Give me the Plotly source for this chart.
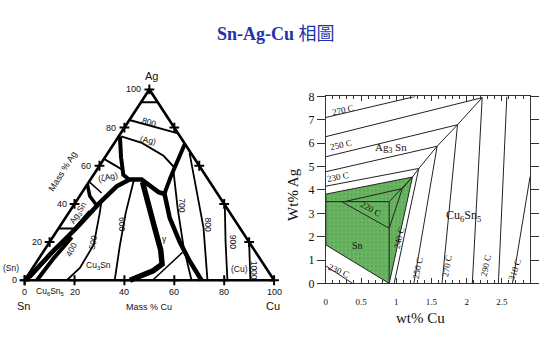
import plotly.graph_objects as go

# ================= LEFT: Sn-Ag-Cu ternary (values = mass % Cu, mass % Ag) =================
TERNARY_TICKS = [0, 20, 40, 60, 80, 100]
RIGHT_EDGE_TICKS = [20, 40, 60, 80]
CORNER_CU = [0, 100, 0, 0]
CORNER_AG = [0, 0, 100, 0]

TOP_CAP_CU = [0, 6.5];                 TOP_CAP_AG = [93.3, 93.3]
ISO800_TOP_CU = [0, 23];               ISO800_TOP_AG = [84, 77]
AG_SOLVUS_CU = [1, 11, 23, 30];        AG_SOLVUS_AG = [75.4, 72, 65.3, 59.5]
BOUND_C_CU = [28.5, 30, 31.5, 33, 33.5]; BOUND_C_AG = [71.5, 62, 54, 47, 45.2]
BOUND_A_CU = [0.5, 6.4, 11.9, 16];     BOUND_A_AG = [75.4, 64.5, 55.3, 52.4]
DOME_CU = [0.5, 3.6, 7.1, 9.8, 12.3, 15.7, 20.5, 30.6, 33.5]
DOME_AG = [0, 14.6, 27.6, 40.7, 49.2, 52.8, 52.8, 46.2, 45.2]
GAMMA_L_CU = [21.5, 29.8, 38.3, 46.6, 50.9, 49, 44.7, 42.2]
GAMMA_L_AG = [51.5, 39.4, 27.6, 15.9, 8.4, 5, 1.7, 0]
GAMMA_R_CU = [33.5, 41.8, 52.1, 61.1, 70.9]; GAMMA_R_AG = [45.2, 32.7, 20.1, 10.1, 0]
ISO700_CU = [31.3, 42.5, 54.9, 66.9];  ISO700_AG = [56.8, 37.7, 17.6, 0]
ISO800_CU = [32.7, 45.1, 57.9, 73.3];  ISO800_AG = [66.8, 47.7, 27.6, 0]
ISO900_CU = [60.5, 70.5, 81.3];        ISO900_AG = [39.5, 20.1, 0]
ISO1000_CU = [80, 90.5];               ISO1000_AG = [20, 0]
BOTTOM_SEG_CU = [51.3, 56];            BOTTOM_SEG_AG = [0, 14.6]
ISO600_CU = [17.6, 22.9, 29.3, 36.1];  ISO600_AG = [52.3, 35.2, 17.6, 0]
ISO500_CU = [9.6, 12.5, 18.4, 18.9, 16.9]; ISO500_AG = [42.7, 35.2, 18.6, 6.5, 0]
CU6SN5_B_CU = [4.9, 5.9, 7.6];         CU6SN5_B_AG = [0, 11.6, 22.6]
AG3SN_IN_CU = [1.4, 6.6, 8.0];         AG3SN_IN_AG = [1.5, 27.1, 36.2]
AG3SN_CAP_CU = [0, 6.6];               AG3SN_CAP_AG = [27.1, 27.1]
ZETA_TOP_CU = [0.5, 10.4];             ZETA_TOP_AG = [63.3, 57.8]
ZETA_LOW_CU = [0, 4, 9.3];             ZETA_LOW_AG = [50.3, 44.2, 39.2]
ZETA_MID_CU = [0.5, 8];                ZETA_MID_AG = [51.3, 45.7]

# ================= RIGHT: Sn-rich corner (wt% Cu, wt% Ag) =================
X_TICKS = [0, 0.5, 1, 1.5, 2, 2.5]
X_TICK_TEXT = ["0", "0.5", "1", "1.5", "2", "2.5"]
Y_TICKS = [0, 1, 2, 3, 4, 5, 6, 7, 8]

SN_REGION_X = [0, 1.23, 0.9, 0, 0]
SN_REGION_Y = [3.82, 4.55, 0, 1.65, 3.82]
ISO_A_X = [0, 1.27];  ISO_A_Y = [7.1, 8]
ISO_B_X = [0, 2.22];  ISO_B_Y = [6.28, 7.95]
ISO_C_X = [0, 1.87];  ISO_C_Y = [5.42, 6.79]
ISO_D_X = [0, 1.58];  ISO_D_Y = [4.78, 5.87]
ISO_E_X = [0, 1.32];  ISO_E_Y = [4.16, 4.92]
VALLEY_X = [1.23, 1.32, 1.58, 1.87, 2.22]
VALLEY_Y = [4.55, 4.92, 5.87, 6.79, 7.95]
V0_X = [0.97, 1.32]; V0_Y = [0, 4.92]
V1_X = [1.25, 1.58]; V1_Y = [0, 5.87]
V2_X = [1.65, 1.87]; V2_Y = [0, 6.79]
V3_X = [2.08, 2.22]; V3_Y = [0, 7.95]
V4_X = [2.45, 2.57]; V4_Y = [0, 8]
V5_X = [2.65, 2.9];  V5_Y = [0, 4.57]
LOW230_X = [0, 0.38]; LOW230_Y = [0.75, 0]
SN_H_X = [0, 0.9];    SN_H_Y = [3.5, 3.5]
SN_V_X = [0.9, 0.9];  SN_V_Y = [3.5, 0]
SN_T1_X = [0.236, 1.086]; SN_T1_Y = [3.48, 4.06]
SN_T2_X = [0.236, 0.9];   SN_T2_Y = [3.48, 2.36]
SN_T3_X = [0.9, 1.086, 1.23]; SN_T3_Y = [2.36, 4.06, 4.55]
SN_T4_X = [0.9, 1.23];    SN_T4_Y = [3.5, 4.55]


def tern(cu, ag):
    """mass% Cu / mass% Ag -> planar triangle coordinates."""
    return [c + a / 2.0 for c, a in zip(cu, ag)], list(ag)


SANS = "Liberation Sans, Arial, sans-serif"
SERIF = "Liberation Serif, Times New Roman, serif"

fig = go.Figure()


def tline(cu, ag, w):
    x, y = tern(cu, ag)
    fig.add_trace(go.Scatter(x=x, y=y, mode="lines", xaxis="x", yaxis="y",
                             line=dict(color="black", width=w), hoverinfo="skip"))


# phase boundaries
tline(TOP_CAP_CU, TOP_CAP_AG, 2.2)
tline(ISO800_TOP_CU, ISO800_TOP_AG, 2)
tline(AG_SOLVUS_CU, AG_SOLVUS_AG, 2)
tline(BOUND_C_CU, BOUND_C_AG, 4)
tline(BOUND_A_CU, BOUND_A_AG, 4)
tline(DOME_CU, DOME_AG, 4.5)
tline(GAMMA_L_CU, GAMMA_L_AG, 5.5)
tline(GAMMA_R_CU, GAMMA_R_AG, 4.5)
tline(ISO700_CU, ISO700_AG, 1.8)
tline(ISO800_CU, ISO800_AG, 1.8)
tline(ISO900_CU, ISO900_AG, 1.8)
tline(ISO1000_CU, ISO1000_AG, 1.8)
tline(BOTTOM_SEG_CU, BOTTOM_SEG_AG, 1.5)
tline(ISO600_CU, ISO600_AG, 1.8)
tline(ISO500_CU, ISO500_AG, 1.8)
tline(CU6SN5_B_CU, CU6SN5_B_AG, 4)
tline(AG3SN_IN_CU, AG3SN_IN_AG, 3)
tline(AG3SN_CAP_CU, AG3SN_CAP_AG, 2)
tline(ZETA_TOP_CU, ZETA_TOP_AG, 2)
tline(ZETA_LOW_CU, ZETA_LOW_AG, 3.5)
tline(ZETA_MID_CU, ZETA_MID_AG, 1.5)
# triangle frame
tline(CORNER_CU, CORNER_AG, 2.6)

# tick crosses on the three edges
lx, ly = tern([0] * len(TERNARY_TICKS), TERNARY_TICKS)
bx, by = tern(TERNARY_TICKS, [0] * len(TERNARY_TICKS))
rx, ry = tern([100 - t for t in RIGHT_EDGE_TICKS], RIGHT_EDGE_TICKS)
fig.add_trace(go.Scatter(x=lx + bx + rx, y=ly + by + ry, mode="markers", xaxis="x", yaxis="y",
                         marker=dict(symbol="cross-thin", size=7, line=dict(width=2, color="black")),
                         hoverinfo="skip"))

ann = []
for t, x, y in zip(TERNARY_TICKS, lx, ly):
    ann.append(dict(x=x, y=y, xref="x", yref="y", text=str(t), showarrow=False,
                    xanchor="right", yanchor="middle", xshift=-6,
                    font=dict(family=SANS, size=9, color="#111")))
for t, x, y in zip(TERNARY_TICKS, bx, by):
    ann.append(dict(x=x, y=y, xref="x", yref="y", text=str(t), showarrow=False,
                    xanchor="center", yanchor="top", yshift=-5,
                    font=dict(family=SANS, size=9, color="#111")))


def tlabel(px, py, text, angle=0, size=8.5):
    # px, py: position in triangle plane units
    ann.append(dict(x=px, y=py, xref="x", yref="y", text=text, showarrow=False,
                    xanchor="center", yanchor="middle",
                    textangle=angle, font=dict(family=SANS, size=size, color="#111")))


tlabel(49.7, 82.9, "800", 16)
tlabel(49.3, 73.4, "(Ag)", 12)
tlabel(33.3, 54.0, "(ζAg)", -12)
tlabel(21.3, 35.2, "Ag<sub>3</sub>Sn", -58)
tlabel(18.5, 16.1, "400", -62)
tlabel(27.3, 19.6, "500", -78)
tlabel(39.3, 29.6, "600", 90)
tlabel(29.7, 7.5, "Cu<sub>3</sub>Sn")
tlabel(56.0, 21.6, "γ")
tlabel(62.8, 39.2, "700", 90)
tlabel(73.6, 29.1, "800", 90)
tlabel(83.6, 20.1, "900", 90)
tlabel(92.0, 5.5, "1000", 90)
tlabel(86.0, 6.0, "(Cu)")
tlabel(-5.5, 6.5, "(Sn)")
tlabel(10.5, -6.0, "Cu<sub>6</sub>Sn<sub>5</sub>")
tlabel(50.9, 107.0, "Ag", 0, 11)

for x, y, txt, ang, sz in [(22 / 550, 1 - 312 / 340, "Sn", 0, 11),
                           (272 / 550, 1 - 312 / 340, "Cu", 0, 11),
                           (148 / 550, 1 - 313 / 340, "Mass % Cu", 0, 9),
                           (61 / 550, 1 - 171 / 340, "Mass % Ag", -58, 9)]:
    ann.append(dict(x=x, y=y, xref="paper", yref="paper", text=txt, showarrow=False,
                    xanchor="center", yanchor="middle",
                    textangle=ang, font=dict(family=SANS, size=sz, color="#111")))

# ================= RIGHT PANEL =================
fig.add_trace(go.Scatter(x=SN_REGION_X, y=SN_REGION_Y, mode="lines", fill="toself",
                         xaxis="x2", yaxis="y2", fillcolor="rgb(106,182,98)",
                         fillpattern=dict(shape=".", fgcolor="rgb(70,140,70)", size=4,
                                          solidity=0.25, fillmode="overlay"),
                         line=dict(color="#222", width=1), hoverinfo="skip"))


def rline(x, y, w=1.0):
    fig.add_trace(go.Scatter(x=x, y=y, mode="lines", xaxis="x2", yaxis="y2",
                             line=dict(color="#222", width=w), hoverinfo="skip"))


for xs, ys in [(ISO_A_X, ISO_A_Y), (ISO_B_X, ISO_B_Y), (ISO_C_X, ISO_C_Y), (ISO_D_X, ISO_D_Y),
               (ISO_E_X, ISO_E_Y), (VALLEY_X, VALLEY_Y), (V0_X, V0_Y), (V1_X, V1_Y),
               (V2_X, V2_Y), (V3_X, V3_Y), (V4_X, V4_Y), (V5_X, V5_Y), (LOW230_X, LOW230_Y),
               (SN_H_X, SN_H_Y), (SN_V_X, SN_V_Y), (SN_T1_X, SN_T1_Y), (SN_T2_X, SN_T2_Y),
               (SN_T3_X, SN_T3_Y), (SN_T4_X, SN_T4_Y)]:
    rline(xs, ys)


def rlabel(x, y, text, angle=0, size=9):
    ann.append(dict(x=x, y=y, xref="x2", yref="y2", text=text, showarrow=False,
                    xanchor="center", yanchor="middle",
                    textangle=angle, font=dict(family=SERIF, size=size, color="#111")))


rlabel(0.25, 7.43, "270 C", -13)
rlabel(0.21, 5.94, "250 C", -13)
rlabel(0.17, 4.55, "230 C", -11)
rlabel(0.92, 5.80, "Ag<sub>3</sub> Sn", 0, 11)
rlabel(0.64, 3.20, "220 C", 30)
rlabel(0.45, 1.64, "Sn", 0, 10)
rlabel(1.96, 2.87, "Cu<sub>6</sub>Sn<sub>5</sub>", 0, 12)
rlabel(1.04, 1.95, "240 C", -76)
rlabel(1.30, 0.68, "250 C", -78)
rlabel(1.72, 0.75, "270 C", -80)
rlabel(2.27, 0.75, "290 C", -78)
rlabel(2.69, 0.60, "310 C", -70)
rlabel(0.19, 0.55, "230 C", 25)

ann.append(dict(x=292 / 550, y=1 - 195 / 340, xref="paper", yref="paper", text="Wt% Ag",
                showarrow=False, textangle=-90, xanchor="center", yanchor="middle",
                font=dict(family=SERIF, size=15, color="#111")))
ann.append(dict(x=420 / 550, y=1 - 324 / 340, xref="paper", yref="paper", text="wt% Cu",
                showarrow=False, xanchor="center", yanchor="middle",
                font=dict(family=SERIF, size=15, color="#111")))

# title
ann.append(dict(x=0.5, y=1 - 28 / 340, xref="paper", yref="paper",
                text="<b>Sn-Ag-Cu</b> 相圖", showarrow=False,
                xanchor="center", yanchor="middle",
                font=dict(family="Liberation Serif, Noto Sans CJK TC", size=18, color="#2233aa")))

fig.update_layout(
    width=550, height=340, margin=dict(l=0, r=0, t=0, b=0),
    paper_bgcolor="white", plot_bgcolor="white", showlegend=False,
    annotations=ann,
    xaxis=dict(domain=[0.0049, 0.5329], range=[-8, 108], visible=False),
    yaxis=dict(domain=[0.1091, 0.8056], range=[-9, 110], visible=False),
    xaxis2=dict(domain=[325 / 550, 530 / 550], range=[0, 2.9], anchor="y2",
                tickvals=X_TICKS, ticktext=X_TICK_TEXT, ticks="inside", ticklen=5,
                tickcolor="#333", showline=True, linecolor="#333", linewidth=1,
                mirror="ticks", showgrid=False, zeroline=False, ticklabelstandoff=10,
                tickfont=dict(family=SERIF, size=9, color="#111"),
                minor=dict(dtick=0.1, tick0=0, ticks="inside", ticklen=3, tickcolor="#333")),
    yaxis2=dict(domain=[1 - 288.3 / 340, 1 - 93.3 / 340], range=[0, 8], anchor="x2",
                tickvals=Y_TICKS, ticks="outside", ticklen=8, tickcolor="#333",
                showline=True, linecolor="#333", linewidth=1, mirror="ticks",
                showgrid=False, zeroline=False,
                tickfont=dict(family=SERIF, size=12, color="#111")),
)

fig.write_html("out.html")
